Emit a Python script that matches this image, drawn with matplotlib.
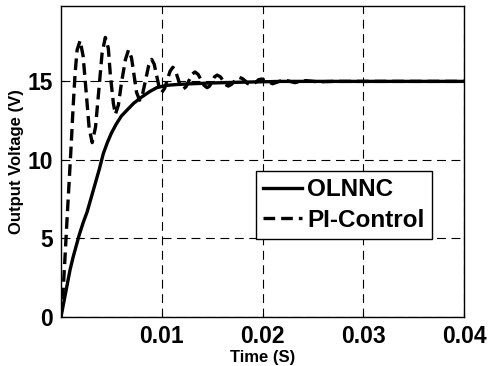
import matplotlib
matplotlib.use('Agg')
import matplotlib.pyplot as plt

# OLNNC response (solid)
t_olnnc = [0, 0.0003, 0.0006, 0.0009, 0.0012, 0.0015, 0.0018, 0.0022, 0.0026,
           0.0030, 0.0034, 0.0038, 0.0042, 0.0046, 0.0050, 0.0055, 0.0060,
           0.0066, 0.0072, 0.0080, 0.0088, 0.0095, 0.0105, 0.0115, 0.013,
           0.015, 0.018, 0.022, 0.03, 0.04]
v_olnnc = [0, 1.0, 2.0, 3.0, 3.8, 4.5, 5.2, 6.0, 6.7,
           7.6, 8.5, 9.4, 10.4, 11.1, 11.7, 12.3, 12.8,
           13.2, 13.6, 14.0, 14.35, 14.6, 14.75, 14.8, 14.85,
           14.9, 14.95, 15.0, 15.0, 15.0]

# PI-Control response (dashed)
t_pi = [0, 0.0002, 0.0004, 0.0006, 0.0008, 0.0010, 0.0012, 0.0014, 0.0016, 0.0019,
        0.0022, 0.0025, 0.0028, 0.0031,
        0.00343, 0.00375, 0.00408, 0.0044,
        0.0047, 0.0049, 0.0052, 0.0054,
        0.0057, 0.0060, 0.0064, 0.0067,
        0.0070, 0.00725, 0.0075, 0.0078,
        0.0081, 0.0084, 0.0087, 0.0090,
        0.00925, 0.0095, 0.00975, 0.0100,
        0.01028, 0.01055, 0.01083, 0.0111,
        0.01135, 0.0116, 0.01185, 0.0121,
        0.0124, 0.0127, 0.0130, 0.0133,
        0.0136, 0.0139, 0.0142, 0.0145,
        0.01475, 0.0150, 0.01525, 0.0155,
        0.0158, 0.0161, 0.0163, 0.0166,
        0.0169, 0.0172, 0.0174, 0.0177,
        0.0180, 0.0183, 0.0185, 0.0188,
        0.0191, 0.0194, 0.0196, 0.0199,
        0.0205, 0.0210, 0.0221, 0.0232, 0.0243, 0.0255, 0.027, 0.04]
v_pi = [0, 1.5, 3.8, 6.2, 8.5, 10.8, 13.3, 15.5, 17.0, 17.6,
        16.6, 14.3, 12.0, 11.1,
        12.1, 14.4, 16.8, 17.8,
        17.1, 15.4, 13.6, 12.9,
        13.5, 14.9, 16.4, 17.0,
        16.5, 15.4, 14.3, 13.8,
        14.2, 15.1, 16.0, 16.4,
        16.1, 15.35, 14.6, 14.3,
        14.55, 15.1, 15.65, 15.9,
        15.7, 15.2, 14.7, 14.5,
        14.65, 15.05, 15.45, 15.6,
        15.45, 15.1, 14.75, 14.6,
        14.7, 15.0, 15.3, 15.4,
        15.3, 15.05, 14.8, 14.7,
        14.8, 15.0, 15.17, 15.25,
        15.18, 15.02, 14.87, 14.8,
        14.85, 14.98, 15.1, 15.15,
        15.0, 14.85, 15.1, 14.92, 15.05, 14.97, 15.0, 15.0]

x_ticks = [0.01, 0.02, 0.03, 0.04]
x_tick_labels = ['0.01', '0.02', '0.03', '0.04']
y_ticks = [0, 5, 10, 15]

plt.rcParams['font.family'] = ['Liberation Sans', 'DejaVu Sans']
plt.rcParams['font.weight'] = 'bold'

fig = plt.figure(figsize=(4.89, 3.66), dpi=100)
ax = fig.add_axes([0.1247, 0.134, 0.8243, 0.8496])

ax.plot(t_olnnc, v_olnnc, color='black', lw=2.4, label='OLNNC')
ax.plot(t_pi, v_pi, color='black', lw=2.4, ls=(0, (3.5, 1.8)), label='PI-Control')

ax.set_xlim(0, 0.04)
ax.set_ylim(0, 19.8)
ax.set_xticks(x_ticks)
ax.set_xticklabels(x_tick_labels)
ax.set_yticks(y_ticks)
ax.tick_params(direction='in', length=3, width=0.8, labelsize=16.5, pad=6)
for lab in ax.get_xticklabels() + ax.get_yticklabels():
    lab.set_fontweight('bold')
ax.grid(True, color='black', lw=0.8, ls=(0, (8, 5)))
for s in ax.spines.values():
    s.set_linewidth(1.0)

ax.set_xlabel('Time (S)', fontsize=12, fontweight='bold', labelpad=1)
ax.set_ylabel('Output Voltage (V)', fontsize=12, fontweight='bold', labelpad=2)

leg = ax.legend(loc='upper left', bbox_to_anchor=(0.484, 0.469),
                borderaxespad=0, handlelength=1.6, handletextpad=0.2,
                borderpad=0.3, labelspacing=0.3, fancybox=False, framealpha=1,
                prop={'weight': 'bold', 'size': 17.5})
leg.get_frame().set_edgecolor('black')
leg.get_frame().set_linewidth(1.0)

fig.savefig('out.png', dpi=100)
